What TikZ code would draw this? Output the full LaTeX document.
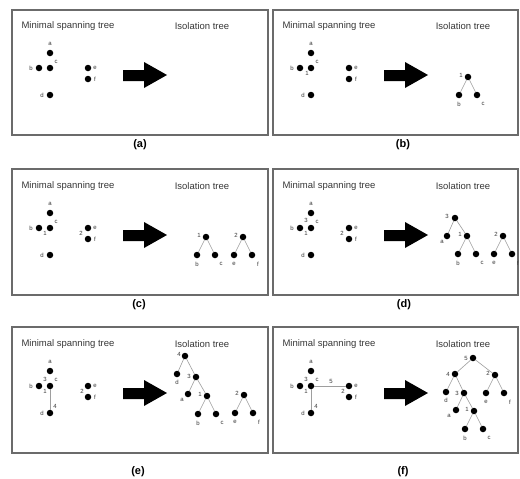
\documentclass[tikz,border=0pt]{standalone}
\usepackage{fontspec}
\setmainfont{Liberation Sans}
\usetikzlibrary{positioning}
\definecolor{FrameGray}{gray}{0.42}
\definecolor{EdgeGray}{gray}{0.62}
\definecolor{LabelInk}{gray}{0.22}
% dots a-f, headings and the big arrow of one panel
\newcommand{\PanelBase}{%
  \node[heading] (mst) at (68,26) {Minimal spanning tree};
  \node[heading] (iso) at (202,26) {Isolation tree};
  \node[vtx] (a) at (50,53) {};
  \node[vtx] (b) at (39,68) {};
  \node[vtx] (c) at (50,68) {};
  \node[vtx] (d) at (50,95) {};
  \node[vtx] (e) at (88,68) {};
  \node[vtx] (f) at (88,79) {};
  \node[tag] (a-t) at (50,44) {a};
  \node[tag] (b-t) at (31,68) {b};
  \node[tag] (c-t) at (56,62) {c};
  \node[tag] (d-t) at (42,95) {d};
  \node[tag] (e-t) at (95,68) {e};
  \node[tag] (f-t) at (95,79) {f};
  \fill (123,70) -- (144,70) -- (144,62) -- (167,75) -- (144,88) -- (144,81) -- (123,81) -- cycle;
}
% root with two leaves: name, x, y, root text, left text, right text
\newcommand{\SubTree}[6]{%
  \node[vtx] (#1) at (#2,#3) {};
  \node[vtx] (#1l) at ([shift={(-9,18)}]#1) {};
  \node[vtx] (#1r) at ([shift={(9,18)}]#1) {};
  \draw[link] (#1) -- (#1l);
  \draw[link] (#1) -- (#1r);
  \node[tag] (#1-t) at ([shift={(-7,-2)}]#1) {#4};
  \node[tag] (#1l-t) at ([shift={(0,9)}]#1l) {#5};
  \node[tag] (#1r-t) at ([shift={(6,9)}]#1r) {#6};
}

\begin{document}
\begin{tikzpicture}[
  x=1pt,y=-1pt,
  panel/.style={draw=FrameGray,line width=1.6pt,inner sep=0pt},
  heading/.style={text=LabelInk,font=\fontsize{9.5}{11}\selectfont,inner sep=0pt},
  vtx/.style={circle,fill=black,minimum size=6.5,inner sep=0pt},
  tag/.style={text=LabelInk,font=\fontsize{6}{7}\selectfont,inner sep=0pt},
  link/.style={draw=EdgeGray,line width=0.6pt},
  caption/.style={font=\bfseries\fontsize{11}{13}\selectfont,inner sep=0pt},
]
  \fill[white] (0,0) rectangle (520,479);
  \useasboundingbox (0,0) rectangle (520,479);

  \node[panel,minimum width=256,minimum height=125] (frameA) at (140,72.5) {};
  \node[panel,minimum width=245,minimum height=125] (frameB) at (395.5,72.5) {};
  \node[panel,minimum width=256,minimum height=126] (frameC) at (140,232) {};
  \node[panel,minimum width=245,minimum height=126] (frameD) at (395.5,232) {};
  \node[panel,minimum width=256,minimum height=126] (frameE) at (140,390) {};
  \node[panel,minimum width=245,minimum height=126] (frameF) at (395.5,390) {};

  \node[caption] (capA) at (140,145) {(a)};
  \node[caption] (capB) at (403,145) {(b)};
  \node[caption] (capC) at (139,305) {(c)};
  \node[caption] (capD) at (404,305) {(d)};
  \node[caption] (capE) at (138,472) {(e)};
  \node[caption] (capF) at (403,472) {(f)};

  % (a)
  \begin{scope}[name prefix=pa-]
    \PanelBase
  \end{scope}

  % (b)
  \begin{scope}[shift={(261,0)},name prefix=pb-]
    \PanelBase
    \node[tag] (w1) at (46,73) {1};
    \SubTree{one}{207}{77}{1}{b}{c}
  \end{scope}

  % (c)
  \begin{scope}[shift={(0,160)},name prefix=pc-]
    \PanelBase
    \node[tag] (w1) at (45,73) {1};
    \node[tag] (w2) at (81,73) {2};
    \SubTree{one}{206}{77}{1}{b}{c}
    \SubTree{two}{243}{77}{2}{e}{f}
  \end{scope}

  % (d)
  \begin{scope}[shift={(261,160)},name prefix=pd-]
    \PanelBase
    \node[tag] (w3) at (45,60) {3};
    \node[tag] (w1) at (45,73) {1};
    \node[tag] (w2) at (81,73) {2};
    \node[vtx] (three) at (194,58) {};
    \node[tag] (three-t) at (186,56) {3};
    \node[vtx] (ta) at (186,76) {};
    \node[tag] (ta-t) at (181,82) {a};
    \SubTree{one}{206}{76}{1}{b}{c}
    \SubTree{two}{242}{76}{2}{e}{f}
    \draw[link] (three) -- (ta);
    \draw[link] (three) -- (one);
  \end{scope}

  % (e)
  \begin{scope}[shift={(0,318)},name prefix=pe-]
    \PanelBase
    \draw[link] (c) -- (d);
    \node[tag] (w3) at (45,61) {3};
    \node[tag] (w1) at (45,73) {1};
    \node[tag] (w4) at (55,88) {4};
    \node[tag] (w2) at (82,73) {2};
    \node[vtx] (four) at (185,38) {};
    \node[tag] (four-t) at (179,36) {4};
    \node[vtx] (td) at (177,56) {};
    \node[tag] (td-t) at (177,64) {d};
    \node[vtx] (three) at (196,59) {};
    \node[tag] (three-t) at (189,58) {3};
    \node[vtx] (ta) at (188,76) {};
    \node[tag] (ta-t) at (182,82) {a};
    \SubTree{one}{207}{78}{1}{b}{c}
    \SubTree{two}{244}{77}{2}{e}{f}
    \draw[link] (four) -- (td);
    \draw[link] (four) -- (three);
    \draw[link] (three) -- (ta);
    \draw[link] (three) -- (one);
  \end{scope}

  % (f)
  \begin{scope}[shift={(261,318)},name prefix=pf-]
    \PanelBase
    \draw[link] (c) -- (d);
    \draw[link] (c) -- (e);
    \node[tag] (w3) at (45,61) {3};
    \node[tag] (w1) at (45,73) {1};
    \node[tag] (w4) at (55,88) {4};
    \node[tag] (w5) at (70,63) {5};
    \node[tag] (w2) at (82,73) {2};
    \node[vtx] (five) at (212,40) {};
    \node[tag] (five-t) at (205,40) {5};
    \node[vtx] (four) at (194,56) {};
    \node[tag] (four-t) at (187,56) {4};
    \node[vtx] (td) at (185,74) {};
    \node[tag] (td-t) at (185,82) {d};
    \node[vtx] (three) at (203,75) {};
    \node[tag] (three-t) at (196,75) {3};
    \node[vtx] (ta) at (195,92) {};
    \node[tag] (ta-t) at (188,98) {a};
    \SubTree{two}{234}{57}{2}{e}{f}
    \SubTree{one}{213}{93}{1}{b}{c}
    \draw[link] (five) -- (four);
    \draw[link] (five) -- (two);
    \draw[link] (four) -- (td);
    \draw[link] (four) -- (three);
    \draw[link] (three) -- (ta);
    \draw[link] (three) -- (one);
  \end{scope}
\end{tikzpicture}
\end{document}
